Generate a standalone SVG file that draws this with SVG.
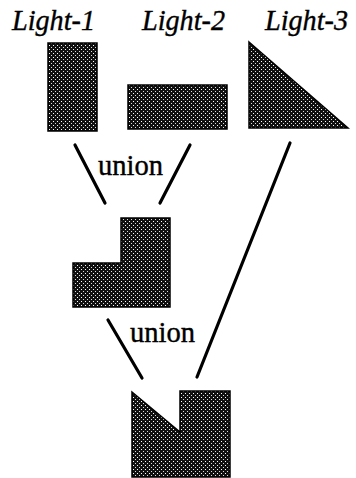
<svg xmlns="http://www.w3.org/2000/svg" width="356" height="478" viewBox="0 0 356 478">
<style>
.lbl{font-family:"Liberation Serif",serif;font-style:italic;font-size:30px;fill:#000;stroke:#000;stroke-width:0.4}
.op{font-family:"Liberation Serif",serif;font-size:29px;fill:#000;stroke:#000;stroke-width:0.4}
.shape{fill:url(#stipple);stroke:#000;stroke-width:1.5}
.conn line{stroke:#000;stroke-width:3.2;stroke-linecap:round}
</style>
<defs>
<pattern id="stipple" width="4" height="4" patternUnits="userSpaceOnUse">
<rect width="4" height="4" fill="#111"/>
<rect x="1" y="1" width="1" height="1" fill="#fff"/>
<rect x="3" y="3" width="1" height="1" fill="#ddd"/>
</pattern>
</defs>
<rect width="356" height="478" fill="#fff"/>
<g id="light1">
<text class="lbl" x="12" y="30" textLength="83" lengthAdjust="spacingAndGlyphs">Light-1</text>
<rect class="shape" x="48" y="43" width="49" height="88"/>
</g>
<g id="light2">
<text class="lbl" x="142" y="30" textLength="83" lengthAdjust="spacingAndGlyphs">Light-2</text>
<rect class="shape" x="128" y="85" width="99" height="44"/>
</g>
<g id="light3">
<text class="lbl" x="265" y="30" textLength="83" lengthAdjust="spacingAndGlyphs">Light-3</text>
<polygon class="shape" points="249,42 348,128 249,128"/>
</g>
<g id="union1">
<polygon class="shape" points="121,218 170,218 170,307 73,307 73,263 121,263"/>
</g>
<g id="union2">
<polygon class="shape" points="132,392 180,432 180,391 230,391 230,477 132,477"/>
</g>
<g class="conn" id="connectors">
<line x1="75" y1="145" x2="105" y2="203"/>
<line x1="190" y1="145" x2="160" y2="203"/>
<line x1="108" y1="320" x2="142" y2="378"/>
<line x1="290" y1="143" x2="197" y2="377"/>
<text class="op" x="98" y="175" textLength="65" lengthAdjust="spacingAndGlyphs">union</text>
<text class="op" x="130" y="342" textLength="65" lengthAdjust="spacingAndGlyphs">union</text>
</g>
</svg>
